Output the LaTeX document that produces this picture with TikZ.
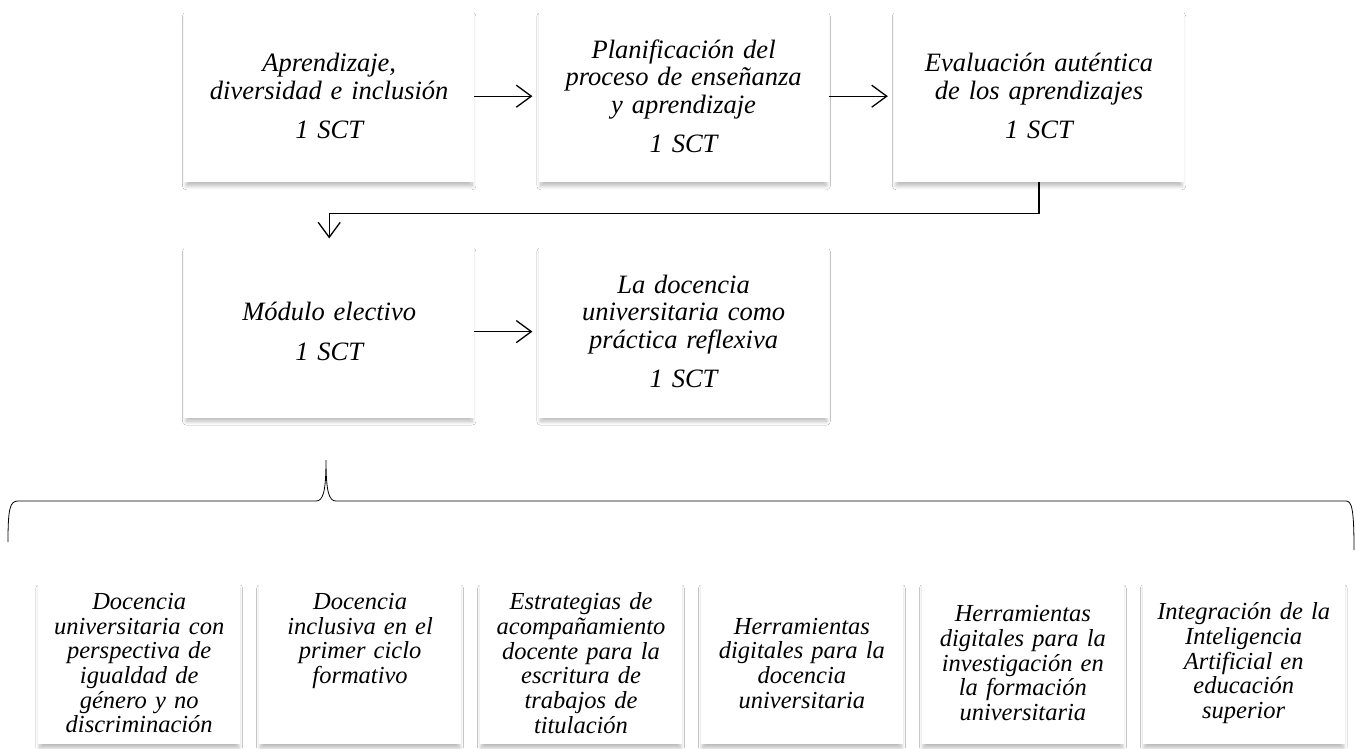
\documentclass[tikz,border=0pt]{standalone}
\usepackage{fontspec}
\setmainfont{Liberation Serif}
\usetikzlibrary{positioning,arrows.meta,shadows.blur,backgrounds}
\pgfdeclarelayer{background layer}
\pgfsetlayers{background layer,main}
\tikzset{
	module/.style={rectangle, fill=white, draw=none, inner sep=4pt,
		minimum width=290pt, minimum height=172pt, text width=280pt, align=center,
		font=\itshape\fontsize{26.5}{27.5}\selectfont,
		blur shadow={shadow xshift=0pt, shadow yshift=-5pt, shadow scale=0.985, shadow blur radius=4pt, shadow blur steps=8, shadow opacity=28}},
	optionbox/.style={module, minimum width=200pt, minimum height=162pt, text width=194pt,
		font=\itshape\fontsize{24.5}{24.7}\selectfont},
	flow/.style={-{Straight Barb[length=15pt,width=22pt]}, line width=1.3pt, shorten >=6pt}
}
\newcommand{\elective}[3]{
	\node [optionbox, right=18.5pt of #1] (#2) {#3}
}

\begin{document}
\begin{tikzpicture}[x=1pt,y=-1pt]
	\useasboundingbox (0,0) rectangle (1357,748);
	\clip (0,0) rectangle (1357,748);

	% Core modules
	\node [module, anchor=north west] (learn) at (184,10) {Aprendizaje,\\diversidad e inclusión\\[12pt]1 SCT};
	\node [module, right=64pt of learn] (plan) {Planificación del\\proceso de enseñanza\\y aprendizaje\\[12pt]1 SCT};
	\node [module, right=65pt of plan] (assess) {Evaluación auténtica\\de los aprendizajes\\[12pt]1 SCT};
	\node [module, below=63pt of learn] (elect) {Módulo electivo\\[12pt]1 SCT};
	\node [module, right=64pt of elect] (reflect) {La docencia\\universitaria como\\práctica reflexiva\\[12pt]1 SCT};

	\draw [flow] (learn) -- (plan);
	\draw [flow] (plan) -- (assess);
	\draw [flow, shorten >=7pt] (assess.south) -- ++(0,31) -| (elect.north);
	\draw [flow] (elect) -- (reflect);

	% Brace over the electives
	\draw [line width=0.8pt] (8,542) .. controls (8,508) and (10,501) .. (18,501) -- (316,501)
		.. controls (323,501) and (326,492) .. (326,460)
		.. controls (326,492) and (329,501) .. (336,501) -- (1346,501)
		.. controls (1352,501) and (1354,510) .. (1354,550);

	% Elective options
	\node [optionbox, anchor=north west] (gender) at (38,582) {Docencia\\universitaria con\\perspectiva de\\igualdad de\\género y no\\discriminación};
	\elective {gender}{inclusive}{Docencia\\inclusiva en el\\primer ciclo\\formativo\\[\baselineskip]\mbox{}};
	\elective {inclusive}{thesis}{Estrategias de\\acompañamiento\\docente para la\\escritura de\\trabajos de\\titulación};
	\elective {thesis}{digiteach}{Herramientas\\digitales para la\\docencia\\universitaria};
	\elective {digiteach}{digiresearch}{Herramientas\\digitales para la\\investigación en\\la formación\\universitaria};
	\elective {digiresearch}{ai}{Integración de la\\Inteligencia\\Artificial en\\educación\\superior};

	% On background layer
	\begin{pgfonlayer}{background layer}
	\fill [white] (0,0) rectangle (1357,748);
	\end{pgfonlayer}
\end{tikzpicture}
\end{document}
